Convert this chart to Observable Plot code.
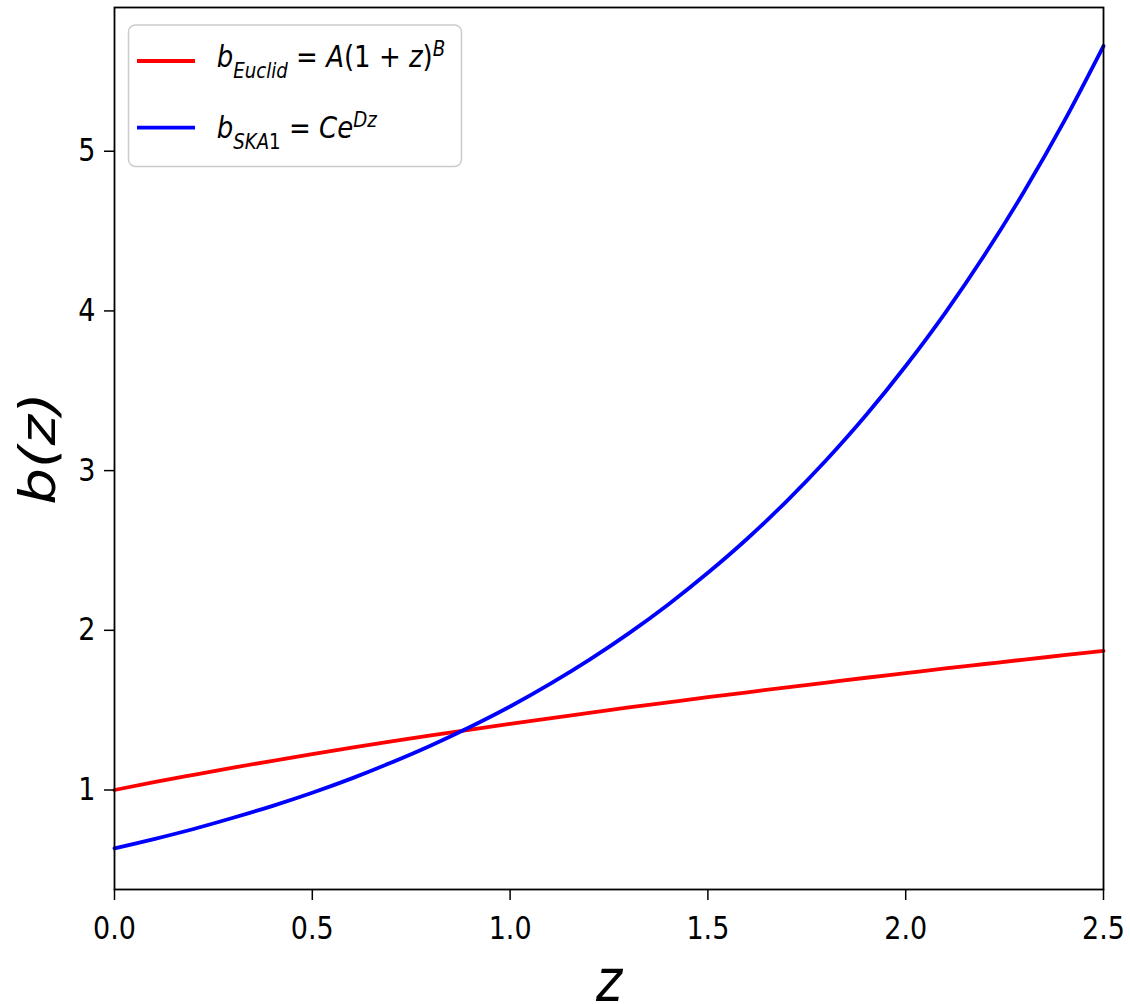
<!DOCTYPE html>
<html>
<head>
<meta charset="utf-8">
<script src="https://cdn.jsdelivr.net/npm/d3@7"></script>
<script src="https://cdn.jsdelivr.net/npm/@observablehq/plot@0.6"></script>
<style>
html, body { margin: 0; padding: 0; background: #fff; }
svg { display: block; }
</style>
</head>
<body>
<div id="chart"></div>
<script>
// Redshift sample points
const zValues = [0.0, 0.1, 0.2, 0.3, 0.4, 0.5, 0.6, 0.7, 0.8, 0.9, 1.0, 1.1, 1.2,
                 1.3, 1.4, 1.5, 1.6, 1.7, 1.8, 1.9, 2.0, 2.1, 2.2, 2.3, 2.4, 2.5];
// Red curve: b_Euclid
const bEuclid = [1.000, 1.049, 1.095, 1.140, 1.183, 1.225, 1.265, 1.304, 1.342, 1.378,
                 1.414, 1.449, 1.483, 1.517, 1.549, 1.581, 1.612, 1.643, 1.673, 1.703,
                 1.732, 1.761, 1.789, 1.817, 1.844, 1.871];
// Blue curve: b_SKA1
const bSKA1 = [0.635, 0.693, 0.756, 0.826, 0.901, 0.983, 1.073, 1.172, 1.279, 1.396,
               1.523, 1.663, 1.815, 1.981, 2.162, 2.360, 2.575, 2.811, 3.068, 3.348,
               3.655, 3.988, 4.353, 4.751, 5.185, 5.659];

const seriesNames = ["Euclid", "SKA1"];
const seriesColors = ["#ff0000", "#0000ff"];
const xTicks = [0, 0.5, 1.0, 1.5, 2.0, 2.5];
const yTicks = [1, 2, 3, 4, 5];
const xLabel = "z";
const yLabel = "b(z)";
// legend pieces: [text, italic?, level(-1 sub, 0 base, 1 sup)]
const legendParts = [
  [["b", true, 0], ["Euclid", true, -1], [" = ", false, 0], ["A", true, 0], ["(1 + ", false, 0], ["z", true, 0], [")", false, 0], ["B", true, 1]],
  [["b", true, 0], ["SKA", true, -1], ["1", false, -1], [" = ", false, 0], ["C", true, 0], ["e", true, 0], ["Dz", true, 1]]
];

const rows = [];
zValues.forEach((z, i) => {
  rows.push({ z, b: bEuclid[i], s: seriesNames[0] });
  rows.push({ z, b: bSKA1[i], s: seriesNames[1] });
});

const FONT = "'DejaVu Sans', sans-serif";
const STRETCH = 1.16;

const plot = Plot.plot({
  width: 1130,
  height: 1004,
  marginLeft: 114,
  marginRight: 27,
  marginTop: 7,
  marginBottom: 115,
  style: { fontFamily: FONT, background: "#fff", color: "#000", overflow: "visible" },
  x: { domain: [0, 2.5] },
  y: { domain: [0.377, 5.90] },
  color: { domain: seriesNames, range: seriesColors },
  marks: [
    Plot.line(rows, { x: "z", y: "b", z: "s", stroke: "s", strokeWidth: 3.8, curve: "monotone-x" }),
    Plot.frame({ stroke: "#000", strokeWidth: 1.8 }),
    Plot.axisX({ ticks: xTicks, tickFormat: d3.format(".1f"), tickSize: 11, tickPadding: 16, fontSize: 27, label: null, strokeWidth: 1.5 }),
    Plot.axisY({ ticks: yTicks, tickFormat: d3.format("d"), tickSize: 10, tickPadding: 9, fontSize: 27, label: null, strokeWidth: 1.5 }),
    Plot.text([xLabel], { frameAnchor: "bottom", dy: 93, text: d => d, fontSize: 50, fontStyle: "italic", textAnchor: "middle", lineAnchor: "middle", ariaDescription: "xlabel" }),
    Plot.text([yLabel], { frameAnchor: "left", dx: -76, rotate: -90, text: d => d, fontSize: 50, fontStyle: "italic", textAnchor: "middle", lineAnchor: "middle", ariaDescription: "ylabel" })
  ]
});

const svg = d3.select(plot);

function addTransform(sel, extra) {
  sel.each(function () {
    const t = this.getAttribute("transform") || "";
    this.setAttribute("transform", (t + " " + extra).trim());
  });
}
addTransform(svg.selectAll('g[aria-label="x-axis tick label"] text, g[aria-label="y-axis tick label"] text'), `scale(1,${STRETCH})`);
addTransform(svg.selectAll('g[aria-description="xlabel"] text'), `scale(1,${STRETCH})`);
addTransform(svg.selectAll('g[aria-description="ylabel"] text'), `scale(${STRETCH},1)`);

// Legend (matplotlib style, upper left)
const lg = svg.append("g").attr("aria-label", "legend").attr("text-anchor", "start");
lg.append("rect")
  .attr("x", 128.5).attr("y", 25).attr("width", 333).attr("height", 141.5)
  .attr("rx", 7).attr("fill", "#fff").attr("fill-opacity", 0.8)
  .attr("stroke", "#cccccc").attr("stroke-width", 1.5);

const lineYs = [61, 127.7];
const baseYs = [66.7, 138.3];
const LFS = 26, SHIFT = 9.5;
legendParts.forEach((parts, k) => {
  lg.append("line")
    .attr("x1", 137).attr("x2", 195).attr("y1", lineYs[k]).attr("y2", lineYs[k])
    .attr("stroke", seriesColors[k]).attr("stroke-width", 3.8);
  const t = lg.append("text")
    .attr("transform", `translate(216.7,${baseYs[k]}) scale(1,${STRETCH})`)
    .attr("text-anchor", "start")
    .attr("font-family", FONT).attr("font-size", LFS).attr("fill", "#000")
    .style("white-space", "pre");
  let cur = 0;
  parts.forEach(([txt, it, lvl]) => {
    const target = lvl === -1 ? SHIFT : lvl === 1 ? -SHIFT : 0;
    t.append("tspan")
      .attr("dy", target - cur)
      .attr("font-style", it ? "italic" : "normal")
      .attr("font-size", lvl === 0 ? LFS : LFS * 0.7)
      .text(txt);
    cur = target;
  });
});

document.getElementById("chart").appendChild(plot);
</script>
</body>
</html>
